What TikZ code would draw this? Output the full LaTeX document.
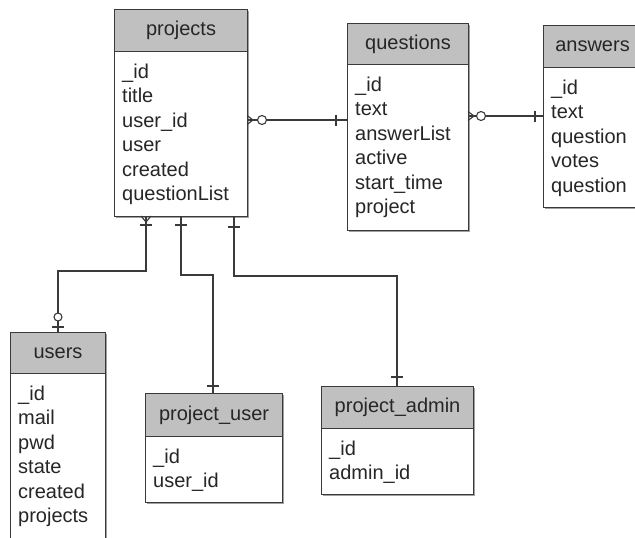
\documentclass[tikz,border=0pt]{standalone}
\usepackage{fontspec}
\setmainfont{Liberation Sans}
\usetikzlibrary{calc}
\definecolor{hdr}{HTML}{C0C0C0}
\definecolor{edgec}{HTML}{3A3A3A}
\definecolor{shd}{HTML}{A0A0A0}
\definecolor{txt}{HTML}{262626}
\tikzset{
  x=1pt, y=-1pt,
  tablebox/.style={draw=edgec, fill=white, line width=1.1pt, anchor=north west, inner sep=0pt},
  headbox/.style={draw=edgec, fill=hdr, line width=1.1pt, anchor=north west, inner sep=0pt,
    text=txt, font=\fontsize{20}{24}\selectfont},
  fieldtext/.style={anchor=north west, align=left, inner sep=0pt, text=txt,
    font=\fontsize{20}{24.5}\selectfont},
  conn/.style={draw=edgec, line width=1.1pt},
  endmark/.style={draw=edgec, line width=1.1pt},
  ring/.style={draw=edgec, line width=1.1pt, fill=white},
}
% name, x1, y1, x2, y2, y header bottom, title, fields
\newcommand\ertable[8]{%
  \pgfmathsetmacro\tw{#4-#2}\pgfmathsetmacro\th{#5-#3}\pgfmathsetmacro\thh{#6-#3}%
  \fill[shd] (#2+2.2,#3+2.2) rectangle (#4+2.2,#5+2.2);
  \node[tablebox, minimum width=\tw pt, minimum height=\th pt] (#1) at (#2,#3) {};
  \node[headbox, minimum width=\tw pt, minimum height=\thh pt] (#1-head) at (#2,#3) {#7};
  \node[fieldtext] (#1-fields) at (#2+8,#6+12.5) {#8};
}
\begin{document}
\begin{tikzpicture}
\useasboundingbox (0,0) rectangle (635,538);
\clip (0,0) rectangle (635,538);
\fill[white] (0,0) rectangle (635,538);

\ertable{projects}{114}{9}{247}{216}{51}{projects}{\_id\\title\\user\_id\\user\\created\\questionList}
\ertable{questions}{347}{23}{468}{230}{64}{questions}{\_id\\text\\answerList\\active\\start\_time\\project}
\ertable{answers}{543}{25}{641}{207}{67}{answers}{\_id\\text\\question\\votes\\question}
\ertable{users}{10}{332}{105}{560}{373}{users}{\_id\\mail\\pwd\\state\\created\\projects}
\ertable{puser}{145}{393}{282}{502}{436}{project\_user}{\_id\\user\_id}
\ertable{padmin}{321}{386}{473}{494}{428}{project\_admin}{\_id\\admin\_id}

% projects -- questions
\draw[conn] (projects.east |- 0,120) -- (questions.west |- 0,120);
\draw[endmark] (247,115.5) -- (253,120) -- (247,124.5);
\draw[ring] (262,120) circle (4.5);
\draw[endmark] (336,114.5) -- (336,125.5);

% questions -- answers
\draw[conn] (questions.east |- 0,116) -- (answers.west |- 0,116);
\draw[endmark] (468,111.5) -- (474,116) -- (468,120.5);
\draw[ring] (481,116) circle (4.5);
\draw[endmark] (535,110.5) -- (535,121.5);

% projects -- users
\draw[conn] (projects.south -| 146,0) |- (58,271) -- (users.north -| 58,0);
\draw[endmark] (141,216) -- (146,222) -- (151,216);
\draw[endmark] (140,225) -- (152,225);
\draw[ring] (58,317) circle (4);
\draw[endmark] (52,327) -- (64,327);

% projects -- project_user
\draw[conn] (projects.south -| 181,0) |- (213,275) -- (puser.north -| 213,0);
\draw[endmark] (175,225) -- (187,225);
\draw[endmark] (207,386) -- (219,386);

% projects -- project_admin
\draw[conn] (projects.south -| 234,0) |- (397,276) -- (padmin.north -| 397,0);
\draw[endmark] (228,227) -- (240,227);
\draw[endmark] (391,377) -- (403,377);
\end{tikzpicture}
\end{document}
